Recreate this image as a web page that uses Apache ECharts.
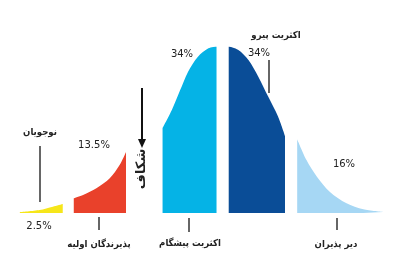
<!DOCTYPE html>
<html><head><meta charset="utf-8">
<script src="https://cdn.jsdelivr.net/npm/echarts@6/dist/echarts.min.js"></script>
<style>html,body{margin:0;padding:0;background:#fff}#c{width:400px;height:260px}</style>
</head><body><div id="c"></div>
<script>
// Segment names and shares
const segmentNames = ['نوجویان', 'پذیرندگان اولیه', 'اکثریت پیشگام', 'اکثریت پیرو', 'دیر پذیران'];
const shares = ['2.5%', '13.5%', '34%', '34%', '16%'];
const chasmLabel = 'شکاف';
// Curve points per segment: [position in std. deviations, height as % of peak]
const innovators = [[-3.50, 0.5], [-3.16, 1.8], [-2.93, 3.8], [-2.76, 5.4]];
const earlyAdopters = [[-2.57, 8.8], [-2.41, 10.8], [-2.18, 14.8], [-1.95, 20.8], [-1.78, 28.8], [-1.67, 36.7]];
const earlyMajority = [[-1.04, 51.0], [-0.88, 61.9], [-0.74, 73.5], [-0.60, 84.9], [-0.43, 93.9], [-0.25, 98.9], [-0.11, 100]];
const lateMajority = [[0.10, 100], [0.26, 98.0], [0.44, 91.9], [0.61, 81.9], [0.78, 69.9], [0.95, 57.9], [1.07, 46.2]];
const laggards = [[1.28, 44.3], [1.44, 31.8], [1.62, 21.8], [1.84, 12.8], [2.13, 5.8], [2.42, 2.2], [2.76, 0.6]];

const segments = [innovators, earlyAdopters, earlyMajority, lateMajority, laggards];
const colors = ['#f6e61a', '#e9412b', '#05b3e6', '#0a4d97', '#a6d7f4'];

const chart = echarts.init(document.getElementById('c'));
const AR = 'bold 9.5px "DejaVu Sans Condensed", "DejaVu Sans"';
const PC = '10px "DejaVu Sans"';
const ink = '#333';
function txt(t, x, y, font, extra) {
  return Object.assign({ type: 'text', x: x, y: y, style: { text: t, fill: '#222', font: font, align: 'center', verticalAlign: 'middle' } }, extra || {});
}
function vline(x, y1, y2) {
  return { type: 'line', shape: { x1: x, y1: y1, x2: x, y2: y2 }, style: { stroke: ink, lineWidth: 1.5 } };
}
chart.setOption({
  animation: false,
  grid: { left: 14, right: 3, top: 46.5, bottom: 47 },
  xAxis: { type: 'value', min: -3.6, max: 3.0, show: false },
  yAxis: { type: 'value', min: 0, max: 100, show: false },
  series: segments.map((d, i) => ({
    type: 'line', name: segmentNames[i], data: d, smooth: 0.3, symbol: 'none',
    lineStyle: { width: 0 }, areaStyle: { color: colors[i], opacity: 1 }, itemStyle: { color: colors[i] }
  })),
  graphic: [
    txt(segmentNames[0], 40, 133, AR), vline(40, 146, 202), txt(shares[0], 39, 226, PC),
    txt(shares[1], 94, 145, PC), vline(99, 217, 230), txt(segmentNames[1], 99, 245, AR),
    txt(shares[2], 182, 54, PC), vline(189, 218, 232), txt(segmentNames[2], 190, 244, AR),
    txt(segmentNames[3], 276, 36, AR), txt(shares[3], 259, 53, PC), vline(269, 60, 93),
    txt(shares[4], 344, 164, PC), vline(337, 218, 230), txt(segmentNames[4], 336, 245, AR),
    { type: 'line', shape: { x1: 142, y1: 88, x2: 142, y2: 140 }, style: { stroke: '#111', lineWidth: 2 } },
    { type: 'polygon', shape: { points: [[138, 139], [146, 139], [142, 148]] }, style: { fill: '#111' } },
    txt(chasmLabel, 142, 169, 'bold 13px "DejaVu Sans"', { rotation: Math.PI / 2 })
  ]
});
</script></body></html>
